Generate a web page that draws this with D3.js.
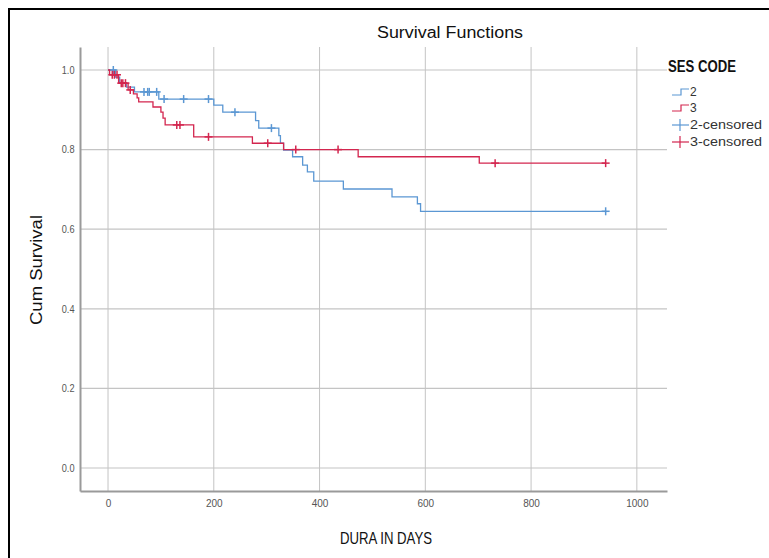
<!DOCTYPE html>
<html><head><meta charset="utf-8">
<script src="https://cdn.jsdelivr.net/npm/d3@7"></script>
<style>
html,body{margin:0;padding:0;background:#fff;}
text{font-family:"Liberation Sans Narrow","Arial Narrow","Liberation Sans",Arial,sans-serif;}
</style></head>
<body><svg id="c" width="769" height="558"></svg>
<script>
// ---- data ----
const xTicks = [0, 200, 400, 600, 800, 1000];
const yTicks = [0.0, 0.2, 0.4, 0.6, 0.8, 1.0];
const groups = ["2", "3"];
const blueTimes = [0, 14, 22, 35, 50, 96, 200, 217, 279, 285, 323, 326, 332, 349, 368, 377, 389, 445, 537, 585, 591];
const blueSurv  = [1.0, 0.982, 0.968, 0.957, 0.945, 0.927, 0.912, 0.894, 0.873, 0.854, 0.835, 0.816, 0.799, 0.782, 0.761, 0.744, 0.721, 0.701, 0.681, 0.664, 0.645];
const blueCensored = [10, 68, 75, 78, 92, 106, 143, 190, 240, 309, 941];
const redTimes = [0, 3, 20, 38, 48, 55, 58, 85, 100, 104, 108, 162, 273, 332, 473, 702];
const redSurv  = [1.0, 0.988, 0.967, 0.95, 0.94, 0.93, 0.92, 0.907, 0.894, 0.879, 0.862, 0.832, 0.816, 0.80, 0.782, 0.766];
const redCensored = [8, 12, 17, 25, 28, 33, 42, 130, 136, 190, 302, 355, 435, 732, 941];
const lastTime = 941;

const colBlue = "#5b97d3", colRed = "#d3264f";
const svg = d3.select("#c");

// outer border
svg.append("rect").attr("x",9).attr("y",9).attr("width",820).attr("height",620)
  .attr("fill","none").attr("stroke","#000").attr("stroke-width",2);

const x = d3.scaleLinear().domain([-53, 1057]).range([80, 667]);
const y = d3.scaleLinear().domain([-0.0578, 1.0578]).range([491, 47]);

// gridlines
const g = svg.append("g");
g.selectAll(".vg").data(xTicks).enter().append("line")
  .attr("x1",d=>x(d)).attr("x2",d=>x(d)).attr("y1",47).attr("y2",491)
  .attr("stroke","#c4c4c4").attr("stroke-width",1);
g.selectAll(".hg").data(yTicks).enter().append("line")
  .attr("x1",80).attr("x2",667).attr("y1",d=>y(d)).attr("y2",d=>y(d))
  .attr("stroke","#c4c4c4").attr("stroke-width",1.2);

// axes
const xa = svg.append("g").attr("transform","translate(0,491)")
  .call(d3.axisBottom(x).tickValues(xTicks).tickSize(0).tickPadding(9).tickFormat(d3.format("d")));
const ya = svg.append("g").attr("transform","translate(80,0)")
  .call(d3.axisLeft(y).tickValues(yTicks).tickSize(0).tickPadding(6).tickFormat(d3.format(".1f")));
[xa, ya].forEach(a=>{
  a.select(".domain").attr("stroke","#9a9a9a").attr("stroke-width",2);
  a.selectAll("text").attr("fill","#555").attr("font-size",10).attr("transform","scale(0.92,1)");
});
xa.selectAll(".tick text").attr("transform",null).attr("font-size",10);

// curves
function stepData(times, surv){
  const pts = times.map((t,i)=>[t, surv[i]]);
  pts.push([lastTime, surv[surv.length-1]]);
  return pts;
}
function survAt(times, surv, t){
  let s = surv[0];
  for (let i=0;i<times.length;i++){ if (times[i] <= t) s = surv[i]; }
  return s;
}
const line = d3.line().x(d=>x(d[0])).y(d=>y(d[1])).curve(d3.curveStepAfter);
const series = [
  {times:blueTimes, surv:blueSurv, cens:blueCensored, col:colBlue},
  {times:redTimes, surv:redSurv, cens:redCensored, col:colRed}
];
series.forEach(s=>{
  svg.append("path").attr("d", line(stepData(s.times, s.surv)))
    .attr("fill","none").attr("stroke",s.col).attr("stroke-width",1.3);
  const cg = svg.append("g");
  s.cens.forEach(t=>{
    const cx = x(t), cy = y(survAt(s.times, s.surv, t));
    cg.append("line").attr("x1",cx).attr("x2",cx).attr("y1",cy-4).attr("y2",cy+4)
      .attr("stroke",s.col).attr("stroke-width",1.5);
    cg.append("line").attr("x1",cx-4).attr("x2",cx+4).attr("y1",cy).attr("y2",cy)
      .attr("stroke",s.col).attr("stroke-width",1.5);
  });
});

// titles
svg.append("text").attr("x",450).attr("y",38).attr("text-anchor","middle")
  .attr("font-size",16).attr("fill","#111").attr("textLength",146).attr("lengthAdjust","spacingAndGlyphs")
  .text("Survival Functions");
svg.append("text").attr("x",386).attr("y",544).attr("text-anchor","middle")
  .attr("font-size",17).attr("fill","#111").attr("textLength",92).attr("lengthAdjust","spacingAndGlyphs")
  .text("DURA IN DAYS");
svg.append("text").attr("transform","translate(42,270) rotate(-90)").attr("text-anchor","middle")
  .attr("font-size",16).attr("fill","#111").attr("textLength",110).attr("lengthAdjust","spacingAndGlyphs")
  .text("Cum Survival");

// legend
svg.append("text").attr("x",668).attr("y",72).attr("font-size",16).attr("font-weight","bold")
  .attr("fill","#111").attr("textLength",68).attr("lengthAdjust","spacingAndGlyphs").text("SES CODE");
const legItems = [
  {label:"2", col:colBlue, type:"step", yy:92},
  {label:"3", col:colRed, type:"step", yy:108},
  {label:"2-censored", col:colBlue, type:"cens", yy:125},
  {label:"3-censored", col:colRed, type:"cens", yy:142}
];
legItems.forEach(it=>{
  if (it.type==="step"){
    svg.append("path").attr("d",`M672,${it.yy+3}H681V${it.yy-3}H689`)
      .attr("fill","none").attr("stroke",it.col).attr("stroke-width",1.2);
  } else {
    svg.append("line").attr("x1",672).attr("x2",689).attr("y1",it.yy).attr("y2",it.yy)
      .attr("stroke",it.col).attr("stroke-width",1.2);
    svg.append("line").attr("x1",680).attr("x2",680).attr("y1",it.yy-6).attr("y2",it.yy+6)
      .attr("stroke",it.col).attr("stroke-width",1.2);
  }
  const tl = svg.append("text").attr("x",690).attr("y",it.yy+4).attr("font-size",12).attr("fill","#333")
    .text(it.label);
  if (it.label.length > 2) tl.attr("textLength",72).attr("lengthAdjust","spacingAndGlyphs");
});
</script></body></html>
